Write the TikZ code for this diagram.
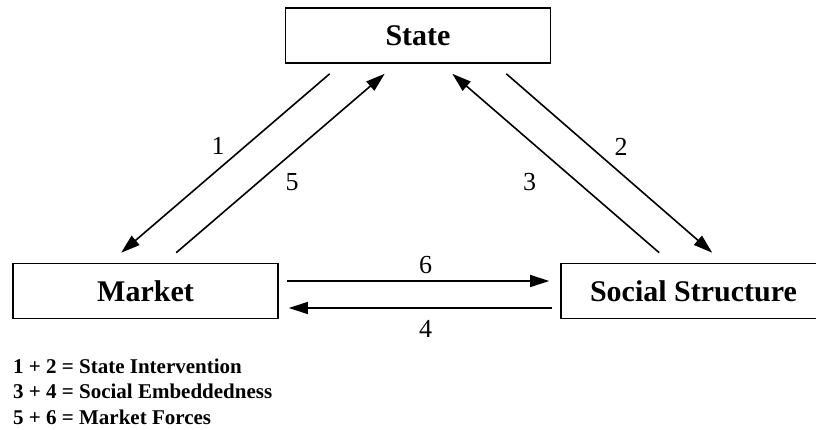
\documentclass[tikz,border=0pt]{standalone}
\usepackage{fontspec}
\setmainfont{Liberation Serif}
\usetikzlibrary{arrows.meta,calc}
\begin{document}
\begin{tikzpicture}[x=1pt,y=-1pt,
  box/.style={draw, line width=1.6pt, minimum width=265pt, minimum height=55pt, inner sep=0pt, font=\fontsize{30}{36}\selectfont\bfseries},
  conn/.style={line width=1.6pt, -{Triangle[length=19pt,width=12pt]}},
  num/.style={inner sep=0pt, font=\fontsize{26}{30}\selectfont},
  legendtext/.style={inner sep=0pt, anchor=base west, font=\fontsize{21}{25}\selectfont\bfseries}]
\useasboundingbox (0,0) rectangle (816,430);
\node[box] (state) at (418,35.5) {State};
\node[box] (market) at (145.5,291) {Market};
\node[box] (social) at (693.5,291) {Social Structure};
% State <-> Market
\draw[conn] ($(state.south west)+(45,10)$) -- ($(market.north west)+(109,-10)$);
\draw[conn] ($(market.north west)+(164,-10)$) -- ($(state.south west)+(100,10)$);
% State <-> Social Structure
\draw[conn] ($(state.south east)+(-45,10)$) -- ($(social.north west)+(152,-10)$);
\draw[conn] ($(social.north west)+(99,-10)$) -- ($(state.south east)+(-99,10)$);
% Market <-> Social Structure
\draw[conn] ($(market.east)+(8,-10)$) -- ($(social.west)+(-11,-10)$);
\draw[conn] ($(social.west)+(-8,17)$) -- ($(market.east)+(10,17)$);
% number labels
\node[num] (n1) at (218,146) {1};
\node[num] (n5) at (292,182.5) {5};
\node[num] (n2) at (621,146.5) {2};
\node[num] (n3) at (529.5,182.5) {3};
\node[num] (n6) at (425.5,265) {6};
\node[num] (n4) at (425.5,328.5) {4};
% legend
\node[legendtext] (l1) at (13,373) {1 + 2 = State Intervention};
\node[legendtext] (l2) at (13,398.5) {3 + 4 = Social Embeddedness};
\node[legendtext] (l3) at (13,424) {5 + 6 = Market Forces};
\end{tikzpicture}
\end{document}
